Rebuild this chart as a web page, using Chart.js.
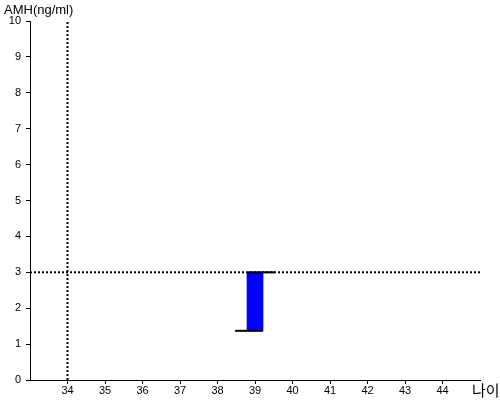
<!DOCTYPE html>
<html>
<head>
<meta charset="utf-8">
<script src="https://cdn.jsdelivr.net/npm/chart.js@4/dist/chart.umd.min.js"></script>
<style>
  html, body { margin: 0; padding: 0; background: #fff; }
  #wrap { width: 500px; height: 400px; }
</style>
</head>
<body>
<div id="wrap"><canvas id="amhchart"></canvas></div>
<script>
// ages shown on x axis, amh ticks on y axis
var xTicks = [34, 35, 36, 37, 38, 39, 40, 41, 42, 43, 44];
var yTicks = [0, 1, 2, 3, 4, 5, 6, 7, 8, 9, 10];
var xRange = [33, 45];
var yRange = [0, 10];

// measured age / amh (dotted guide lines)
var patientAge = 34;
var patientAmh = 3;

// range bar for age 39
var barAge = [39];
var barLow = [1.37];
var barHigh = [3];

// black caps of the range
var lowCapX = [38.47, 39.2];
var highCapX = [38.8, 39.53];

var yTitle = 'AMH(ng/ml)';
var xTitle = '나이';

var labelsPlugin = {
  id: 'axisTitles',
  afterDraw: function (chart) {
    var c = chart.ctx;
    c.save();
    c.fillStyle = '#000';
    c.font = '13px "Liberation Sans", Arial, sans-serif';
    c.textBaseline = 'middle';
    c.textAlign = 'left';
    c.fillText(yTitle, 4, 10);
    c.font = '15px "Noto Sans CJK KR", sans-serif';
    c.fillText(xTitle, 472, 390);
    c.restore();
  }
};

var ctx = document.getElementById('amhchart');
var amhchart = new Chart(ctx, {
  type: 'scatter',
  data: {
    datasets: [{
      type: 'bar',
      data: barAge.map(function (a, i) { return { x: a, y: [barLow[i], barHigh[i]] }; }),
      backgroundColor: '#0000ff',
      borderWidth: 0,
      barThickness: 16,
      order: 3
    }, {
      type: 'line',
      data: [{ x: patientAge, y: yRange[0] }, { x: patientAge, y: yRange[1] }],
      borderColor: '#000',
      borderWidth: 2,
      borderDash: [2, 2],
      pointRadius: 0,
      order: 1
    }, {
      type: 'line',
      data: [{ x: xRange[0], y: patientAmh }, { x: xRange[1], y: patientAmh }],
      borderColor: '#000',
      borderWidth: 2,
      borderDash: [2, 2],
      pointRadius: 0,
      order: 1
    }, {
      type: 'line',
      data: lowCapX.map(function (x) { return { x: x, y: barLow[0] }; }),
      borderColor: '#000',
      borderWidth: 2,
      pointRadius: 0,
      order: 0
    }, {
      type: 'line',
      data: highCapX.map(function (x) { return { x: x, y: barHigh[0] }; }),
      borderColor: '#000',
      borderWidth: 2,
      pointRadius: 0,
      order: 0
    }]
  },
  options: {
    responsive: true,
    maintainAspectRatio: false,
    animation: false,
    events: [],
    layout: { padding: { top: 21, right: 20, left: 0, bottom: 0 } },
    plugins: { legend: { display: false }, tooltip: { enabled: false } },
    scales: {
      x: {
        type: 'linear',
        min: xRange[0],
        max: xRange[1],
        offset: false,
        afterBuildTicks: function (s) { s.ticks = xTicks.map(function (v) { return { value: v }; }); },
        afterFit: function (s) { s.height = 20; },
        grid: { offset: false, drawOnChartArea: false, tickLength: 4, color: '#000' },
        border: { color: '#000', width: 1 },
        ticks: { color: '#000', font: { family: '"Liberation Sans", Arial', size: 11 }, padding: 0, maxRotation: 0 }
      },
      y: {
        min: yRange[0],
        max: yRange[1],
        afterBuildTicks: function (s) { s.ticks = yTicks.map(function (v) { return { value: v }; }); },
        afterFit: function (s) { s.width = 30; },
        grid: { drawOnChartArea: false, tickLength: 4, color: '#000' },
        border: { color: '#000', width: 1 },
        ticks: { color: '#000', font: { family: '"Liberation Sans", Arial', size: 11 }, padding: 5 }
      }
    }
  },
  plugins: [labelsPlugin]
});
</script>
</body>
</html>
